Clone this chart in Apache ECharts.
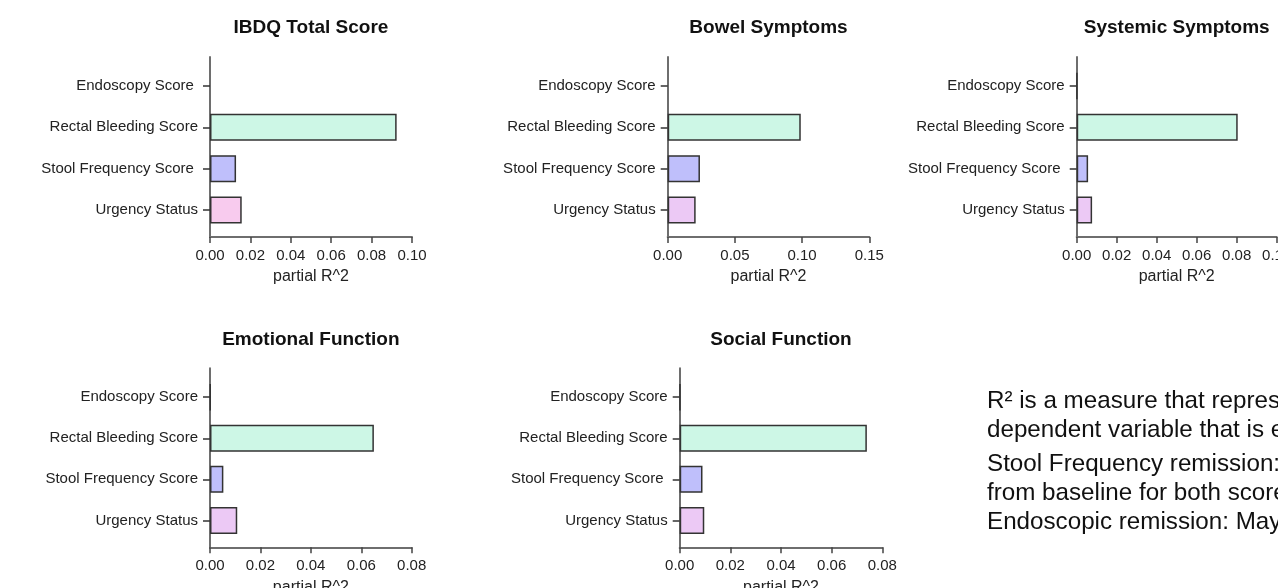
<!DOCTYPE html>
<html>
<head>
<meta charset="utf-8">
<script src="https://cdn.jsdelivr.net/npm/echarts@6/dist/echarts.min.js"></script>
<style>
  html, body { margin: 0; padding: 0; background: #ffffff; }
  #chart { width: 1278px; height: 588px; }
</style>
</head>
<body>
<div id="chart"></div>
<script>
// Predictors, listed bottom to top as they sit on the category axis
const categories = ['Urgency Status', 'Stool Frequency Score', 'Rectal Bleeding Score', 'Endoscopy Score'];

// Tick labels per panel (some carry a trailing space in the source layout)
const labelsIBDQ      = ['Urgency Status', 'Stool Frequency Score ', 'Rectal Bleeding Score', 'Endoscopy Score '];
const labelsBowel     = ['Urgency Status', 'Stool Frequency Score', 'Rectal Bleeding Score', 'Endoscopy Score'];
const labelsSystemic  = ['Urgency Status', 'Stool Frequency Score ', 'Rectal Bleeding Score', 'Endoscopy Score'];
const labelsEmotional = ['Urgency Status', 'Stool Frequency Score', 'Rectal Bleeding Score', 'Endoscopy Score'];
const labelsSocial    = ['Urgency Status', 'Stool Frequency Score ', 'Rectal Bleeding Score', 'Endoscopy Score'];

// partial R^2 per outcome, same order as categories
const valuesIBDQ      = [0.0157, 0.0129, 0.0924, 0];
const valuesBowel     = [0.0208, 0.0240, 0.0990, 0];
const valuesSystemic  = [0.0077, 0.0057, 0.0805, 0.0002];
const valuesEmotional = [0.0108, 0.0053, 0.0650, 0.0002];
const valuesSocial    = [0.0097, 0.0090, 0.0739, 0.0002];

// Value axis ranges
const axisIBDQ      = { max: 0.10, interval: 0.02 };
const axisBowel     = { max: 0.15, interval: 0.05 };
const axisSystemic  = { max: 0.10, interval: 0.02 };
const axisEmotional = { max: 0.08, interval: 0.02 };
const axisSocial    = { max: 0.08, interval: 0.02 };

const titles = ['IBDQ Total Score', 'Bowel Symptoms', 'Systemic Symptoms', 'Emotional Function', 'Social Function'];
const axisName = 'partial R^2';

const noteLines = [
  'R\u00B2 is a measure that represents the proportion of the variance for a',
  'dependent variable that is explained by the independent variables',
  'Stool Frequency remission: subscore \u22641 with a \u22651-point decrease',
  'from baseline for both scores',
  'Endoscopic remission: Mayo endoscopic subscore of 0 or 1'
];

const FONT = '"Liberation Sans", Arial, sans-serif';
const fillRectal = '#cdf7e6';
const fillStool = '#bfbffb';

const panels = [
  { title: titles[0], labels: labelsIBDQ,      values: valuesIBDQ,      axis: axisIBDQ,      x0: 210,   x1: 412,   top: 57,    bottom: 237,   urgency: '#f8cbee' },
  { title: titles[1], labels: labelsBowel,     values: valuesBowel,     axis: axisBowel,     x0: 667.7, x1: 869.3, top: 57,    bottom: 237,   urgency: '#ecc9f5' },
  { title: titles[2], labels: labelsSystemic,  values: valuesSystemic,  axis: axisSystemic,  x0: 1076.7,x1: 1276.7,top: 57,    bottom: 237,   urgency: '#ecc9f5' },
  { title: titles[3], labels: labelsEmotional, values: valuesEmotional, axis: axisEmotional, x0: 210,   x1: 411.7, top: 368.3, bottom: 547.3, urgency: '#ecc9f5' },
  { title: titles[4], labels: labelsSocial,    values: valuesSocial,    axis: axisSocial,    x0: 679.7, x1: 882.3, top: 368.3, bottom: 547.3, urgency: '#ecc9f5' }
];

const grid = [], xAxis = [], yAxis = [], series = [], graphic = [];

panels.forEach((p, i) => {
  const w = p.x1 - p.x0;
  const catTop = p.top + 8.3;
  const catBottom = p.bottom - 6.3;
  const gBars = i * 2, gFrame = i * 2 + 1;

  // grid holding the bars and category labels
  grid.push({ left: p.x0, top: catTop, width: w, height: catBottom - catTop, containLabel: false, outerBoundsMode: 'none' });
  // grid holding the visible axis frame
  grid.push({ left: p.x0, top: p.top, width: w, height: p.bottom - p.top, containLabel: false, outerBoundsMode: 'none' });

  xAxis.push({ gridIndex: gBars, type: 'value', min: 0, max: p.axis.max, show: false });
  xAxis.push({
    gridIndex: gFrame, type: 'value', min: 0, max: p.axis.max, interval: p.axis.interval,
    axisLine: { show: true, lineStyle: { color: '#6e6e6e', width: 2 } },
    axisTick: { show: true, length: 6, lineStyle: { color: '#444', width: 1.5 } },
    splitLine: { show: false },
    axisLabel: { margin: 11, color: '#222', fontFamily: FONT, fontSize: 15, formatter: v => v.toFixed(2) },
    name: axisName, nameLocation: 'middle', nameGap: 32,
    nameTextStyle: { color: '#222', fontFamily: FONT, fontSize: 16 }
  });

  yAxis.push({
    gridIndex: gBars, type: 'category', data: p.labels,
    axisLine: { show: false },
    axisTick: { show: true, alignWithLabel: true, length: 7, lineStyle: { color: '#333', width: 1.5 } },
    axisLabel: { margin: 12, color: '#222', fontFamily: FONT, fontSize: 15 }
  });
  yAxis.push({
    gridIndex: gFrame, type: 'value', min: 0, max: 1,
    axisLine: { show: true, lineStyle: { color: '#6e6e6e', width: 2 } },
    axisTick: { show: false }, axisLabel: { show: false }, splitLine: { show: false }
  });

  const fills = [p.urgency, fillStool, fillRectal, '#dddddd'];
  series.push({
    type: 'bar', xAxisIndex: gBars, yAxisIndex: gBars, barWidth: 27,
    name: p.title,
    data: p.values.map((v, k) => ({
      value: v,
      name: categories[k],
      itemStyle: { color: fills[k], borderColor: '#333', borderWidth: v > 0 ? 1.5 : 0 }
    })),
    silent: true, animation: false
  });

  graphic.push({
    type: 'text', x: (p.x0 + p.x1) / 2, y: p.top - 29,
    style: {
      text: p.title, font: 'bold 19px ' + FONT, fill: '#111',
      textAlign: 'center', align: 'center', textVerticalAlign: 'middle', verticalAlign: 'middle'
    }
  });
});

const noteY = [401.7, 430, 464.3, 493, 522.7];
noteLines.forEach((t, k) => {
  graphic.push({
    type: 'text', x: 987, y: noteY[k],
    style: {
      text: t, font: '24.2px ' + FONT, fill: '#111',
      textAlign: 'left', align: 'left', textVerticalAlign: 'middle', verticalAlign: 'middle'
    }
  });
});

const chart = echarts.init(document.getElementById('chart'), null, { renderer: 'canvas' });
chart.setOption({
  backgroundColor: '#ffffff',
  animation: false,
  grid, xAxis, yAxis, series, graphic
});
</script>
</body>
</html>
